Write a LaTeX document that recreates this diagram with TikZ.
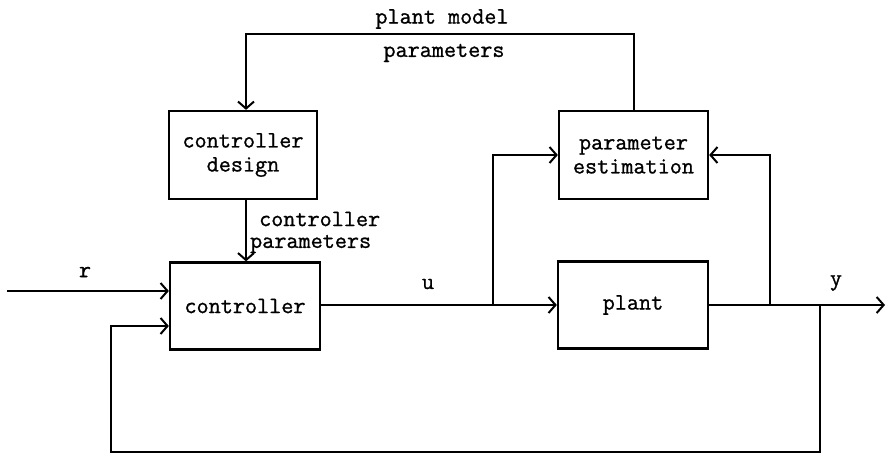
\documentclass[tikz,border=0pt]{standalone}
\usepackage{fontspec}
\setmonofont[FakeBold=1]{Latin Modern Mono}
\usetikzlibrary{arrows.meta}
\begin{document}
\begin{tikzpicture}[x=1pt,y=-1pt,
  font=\ttfamily\bfseries\fontsize{23.5}{24}\selectfont,
  line width=2.3pt, line join=miter,
  blk/.style={draw, minimum width=148pt, minimum height=88pt, align=center, inner sep=0pt},
  arr/.style={-{Straight Barb[length=7pt,width=16pt,line width=2pt]}},
  lbl/.style={inner sep=0pt}]
\useasboundingbox (0,0) rectangle (887,455);
\node[blk] (design) at (243,155) {controller\\design};
\node[blk, minimum width=149pt] (est) at (633.5,155) {parameter\\estimation};
\node[blk, minimum width=150pt, minimum height=87pt] (ctrl) at (245,306) {controller};
\node[blk, minimum width=150pt, minimum height=87pt] (plant) at (633,305) {plant};
\coordinate (topL) at (246,34);
\coordinate (topR) at (634,34);
\coordinate (rin) at (7,291);
\coordinate (fbin) at (111,326);
\coordinate (bl) at (111,452);
\coordinate (br) at (820,452);
\coordinate (j1) at (493,305);
\coordinate (j3) at (770,305);
\coordinate (j2) at (820,305);
\coordinate (yout) at (885,305);
% top loop
\draw[arr] (est.north -| topR) -- (topR) -- (topL) -- (topL |- design.north);
\draw[arr] (topL |- design.south) -- (topL |- ctrl.north);
% r input
\draw[arr] (rin) -- (ctrl.west |- rin);
% controller output to plant
\draw[arr] (ctrl.east |- j1) -- (plant.west |- j1);
\draw[arr] (j1) |- (est.west);
% plant output
\draw[arr] (plant.east |- j3) -- (yout);
\draw[arr] (j3) |- (est.east);
% feedback
\draw[arr] (j2) -- (br) -- (bl) -- (fbin) -- (ctrl.west |- fbin);
% labels
\node[lbl] (lpm) at (442,19) {plant model};
\node[lbl] (lpp) at (444,53) {parameters};
\node[lbl, anchor=west] (lcc) at (258,219) {controller};
\node[lbl, anchor=west] (lcp) at (249,244) {parameters};
\node[lbl] (lr) at (85,272) {r};
\node[lbl] (lu) at (428,284) {u};
\node[lbl] (ly) at (836,283) {y};
\end{tikzpicture}
\end{document}
